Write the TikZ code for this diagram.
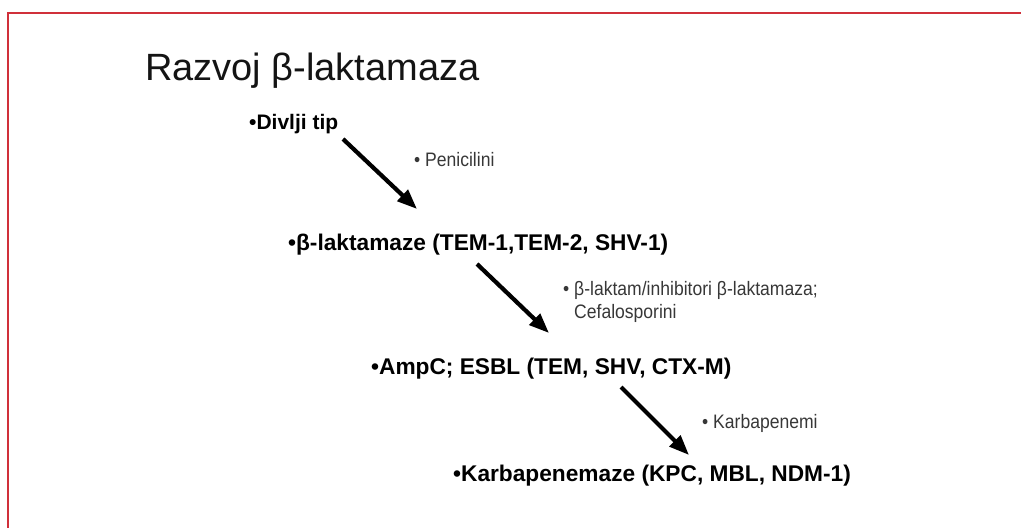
\documentclass[tikz,border=0pt]{standalone}
\usepackage{fontspec}
\setmainfont{Liberation Sans}
\newfontfamily\narrowlabel[FakeStretch=0.9]{Liberation Sans}
\usetikzlibrary{arrows.meta}
\definecolor{framered}{RGB}{208,48,58}
\definecolor{labelgray}{RGB}{55,55,55}
\begin{document}
\begin{tikzpicture}[x=1pt,y=-1pt,
  titletext/.style={anchor=base west,inner sep=0pt,text=black!92,font=\fontsize{38}{40}\selectfont},
  stage/.style={anchor=base west,inner sep=0pt,font=\bfseries\fontsize{22.7}{26}\selectfont},
  drug/.style={anchor=base west,inner sep=0pt,text=labelgray,font=\narrowlabel\fontsize{19.5}{22}\selectfont},
  flow/.style={line width=4.2pt,-{Triangle[length=20pt,width=15pt]}},
  frameline/.style={draw=framered,line width=2pt}]
\useasboundingbox (0,0) rectangle (1021,528);
% frame
\coordinate (ftop) at (1021,13);
\coordinate (fcorner) at (8,13);
\coordinate (fbot) at (8,528);
\draw[frameline] (ftop) -- (fcorner) -- (fbot);
% texts
\node[titletext] (title) at (145,80) {Razvoj β-laktamaza};
\node[stage,font=\bfseries\fontsize{21}{24}\selectfont] (wild) at (249,129) {•Divlji tip};
\node[stage] (blak) at (288,250) {•β-laktamaze (TEM-1,TEM-2, SHV-1)};
\node[stage] (ampc) at (371,374) {•AmpC; ESBL (TEM, SHV, CTX-M)};
\node[stage] (karb) at (453,481) {•Karbapenemaze (KPC, MBL, NDM-1)};
\node[drug] (pen) at (414,166) {• Penicilini};
\node[drug] (inh1) at (563,295) {• β-laktam/inhibitori β-laktamaza;};
\node[drug] (inh2) at (574,318) {Cefalosporini};
\node[drug] (kar) at (702,428) {• Karbapenemi};
% arrows
\coordinate (a1s) at (343,139); \coordinate (a1e) at (417,209);
\coordinate (a2s) at (477,264); \coordinate (a2e) at (549,333);
\coordinate (a3s) at (621,387); \coordinate (a3e) at (689,455);
\draw[flow] (a1s) -- (a1e);
\draw[flow] (a2s) -- (a2e);
\draw[flow] (a3s) -- (a3e);
\end{tikzpicture}
\end{document}
